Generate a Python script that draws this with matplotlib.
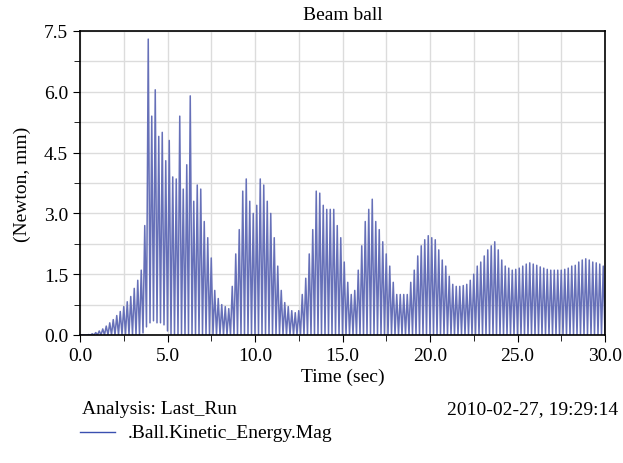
import numpy as np
import matplotlib
matplotlib.use("Agg")
import matplotlib.pyplot as plt
from matplotlib.ticker import MultipleLocator, FormatStrFormatter

plt.rcParams["font.family"] = ["Liberation Serif", "DejaVu Serif"]

# peaks of the kinetic energy trace, one every 0.2 s starting at 0.1 s
peaks = [
    0.0, 0.0, 0.01, 0.03, 0.06, 0.1, 0.15, 0.22, 0.3, 0.38,
    0.48, 0.58, 0.7, 0.82, 0.95, 1.15, 1.35, 1.6, 2.7, 7.3,
    5.4, 6.05, 4.9, 5.0, 4.3, 4.8, 3.9, 3.85, 5.4, 3.6,
    4.2, 5.9, 3.3, 3.7, 3.6, 2.8, 2.4, 1.9, 1.1, 0.9,
    0.75, 0.7, 0.65, 1.2, 2.0, 2.6, 3.55, 3.85, 3.3, 3.0,
    3.2, 3.85, 3.7, 3.3, 3.0, 2.4, 1.7, 1.1, 0.8, 0.7,
    0.6, 0.55, 0.6, 1.0, 1.4, 2.0, 2.6, 3.55, 3.5, 3.2,
    3.1, 3.1, 3.1, 2.7, 2.4, 1.8, 1.3, 1.0, 1.1, 1.6,
    2.2, 2.8, 3.1, 3.35, 2.8, 2.6, 2.3, 2.0, 1.7, 1.3,
    1.0, 1.0, 1.0, 1.0, 1.3, 1.6, 1.95, 2.2, 2.35, 2.45,
    2.4, 2.35, 2.1, 1.85, 1.7, 1.45, 1.25, 1.2, 1.2, 1.22,
    1.25, 1.35, 1.5, 1.7, 1.8, 1.95, 2.1, 2.2, 2.3, 2.1,
    1.85, 1.7, 1.65, 1.6, 1.62, 1.65, 1.7, 1.75, 1.78, 1.75,
    1.72, 1.68, 1.65, 1.62, 1.6, 1.6, 1.6, 1.6, 1.62, 1.65,
    1.7, 1.72, 1.8, 1.85, 1.88, 1.85, 1.8, 1.78, 1.75, 1.7,
]

# troughs in between, one every 0.2 s starting at 0.0 s
troughs = [
    0.0, 0.0, 0.0, 0.0, 0.0, 0.0, 0.0, 0.0, 0.0, 0.0,
    0.0, 0.0, 0.0, 0.0, 0.0, 0.0, 0.0, 0.0, 0.05, 0.2,
    0.3, 0.35, 0.3, 0.3, 0.25, 0.1, 0.0, 0.0, 0.0, 0.0,
    0.0, 0.0, 0.0, 0.0, 0.0, 0.0, 0.0, 0.0, 0.0, 0.0,
    0.0, 0.0, 0.0, 0.0, 0.0, 0.0, 0.0, 0.0, 0.0, 0.0,
    0.0, 0.0, 0.0, 0.0, 0.0, 0.0, 0.0, 0.0, 0.0, 0.0,
    0.0, 0.0, 0.0, 0.0, 0.0, 0.0, 0.0, 0.0, 0.0, 0.0,
    0.0, 0.0, 0.0, 0.0, 0.0, 0.0, 0.0, 0.0, 0.0, 0.0,
    0.0, 0.0, 0.0, 0.0, 0.0, 0.0, 0.0, 0.0, 0.0, 0.0,
    0.0, 0.0, 0.0, 0.0, 0.0, 0.0, 0.0, 0.0, 0.0, 0.0,
    0.0, 0.0, 0.0, 0.0, 0.0, 0.0, 0.0, 0.0, 0.0, 0.0,
    0.0, 0.0, 0.0, 0.0, 0.0, 0.0, 0.0, 0.0, 0.0, 0.0,
    0.0, 0.0, 0.0, 0.0, 0.0, 0.0, 0.0, 0.0, 0.0, 0.0,
    0.0, 0.0, 0.0, 0.0, 0.0, 0.0, 0.0, 0.0, 0.0, 0.0,
    0.0, 0.0, 0.0, 0.0, 0.0, 0.0, 0.0, 0.0, 0.0, 0.0,
    0.0,
]

# interleave troughs and peaks on a 0.1 s time grid
time = np.linspace(0, 30, len(troughs) + len(peaks))
energy = np.empty(len(time))
energy[0::2] = troughs
energy[1::2] = peaks

fig = plt.figure(figsize=(6.23, 4.64), dpi=100)
ax = fig.add_axes([80 / 623, 1 - 336 / 464, 525 / 623, 304 / 464])

ax.plot(time, energy, color="#6670b8", lw=1.1)

ax.set_xlim(0, 30)
ax.set_ylim(0, 7.5)
ax.xaxis.set_major_locator(MultipleLocator(5))
ax.xaxis.set_minor_locator(MultipleLocator(2.5))
ax.yaxis.set_major_locator(MultipleLocator(1.5))
ax.yaxis.set_minor_locator(MultipleLocator(0.75))
ax.xaxis.set_major_formatter(FormatStrFormatter("%.1f"))
ax.yaxis.set_major_formatter(FormatStrFormatter("%.1f"))
ax.grid(True, which="both", color="#dcdcdc", lw=1)
ax.set_axisbelow(True)
ax.tick_params(which="major", direction="out", length=5, labelsize=14)
ax.tick_params(which="minor", direction="out", length=4)
for s in ax.spines.values():
    s.set_linewidth(1.2)

ax.set_title("Beam ball", fontsize=14, pad=9)
ax.set_xlabel("Time (sec)", fontsize=14, labelpad=3)
ax.set_ylabel("(Newton, mm)", fontsize=14, labelpad=9)

fig.text(82 / 623, 1 - 410 / 464, "Analysis: Last_Run", fontsize=14, va="center")
fig.text(618 / 623, 1 - 410 / 464, "2010-02-27, 19:29:14", fontsize=14,
         va="center", ha="right")
fig.add_artist(plt.Line2D([80 / 623, 115 / 623], [1 - 433 / 464, 1 - 433 / 464],
                          color="#3a50b0", lw=1))
fig.text(128 / 623, 1 - 434 / 464, ".Ball.Kinetic_Energy.Mag", fontsize=14,
         va="center")

fig.savefig("out.png", dpi=100)
